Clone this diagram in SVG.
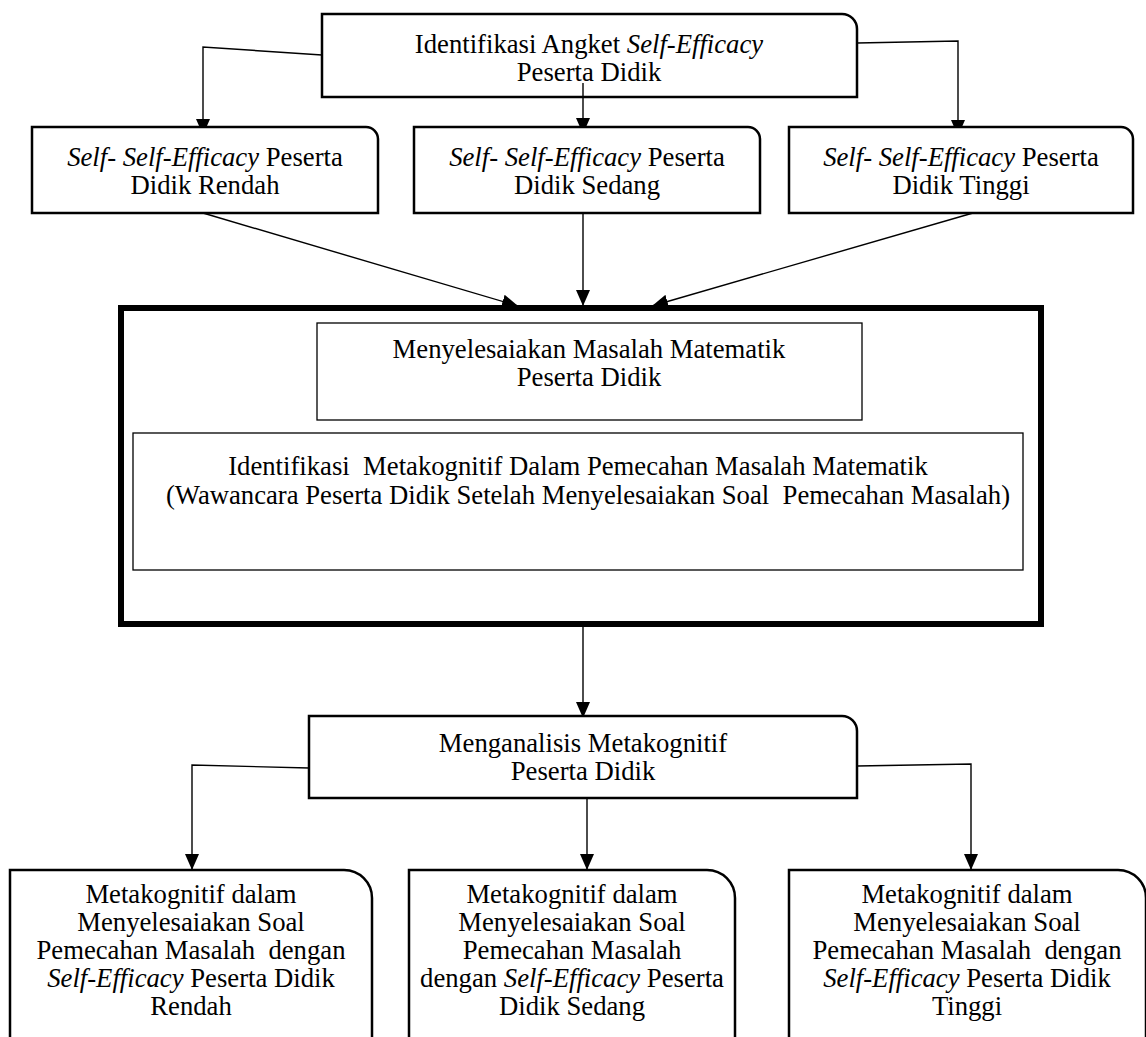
<svg xmlns="http://www.w3.org/2000/svg" width="1146" height="1037" viewBox="0 0 1146 1037">
<defs>
<marker id="arr" viewBox="0 0 16 14" refX="16" refY="7" markerWidth="16" markerHeight="14" markerUnits="userSpaceOnUse" orient="auto">
<path d="M0,0 L16,7 L0,14 Z" fill="#000"/>
</marker>
<style>
.box{fill:#fff;stroke:#000;stroke-width:2.5}
.thin{fill:#fff;stroke:#000;stroke-width:1.3}
.big{fill:none;stroke:#000;stroke-width:6}
.ln{fill:none;stroke:#000;stroke-width:1.4}
.t{font-family:'Liberation Serif','Times New Roman','DejaVu Serif',serif;font-size:26.7px;fill:#000;text-anchor:middle}
.i{font-style:italic}
</style>
</defs>
<rect width="1146" height="1037" fill="#fff"/>

<g id="connectors">
<polyline class="ln" points="322,55 203,47 203,135" marker-end="url(#arr)"/>
<line class="ln" x1="583" y1="83" x2="583" y2="134" marker-end="url(#arr)"/>
<polyline class="ln" points="857,43 958,41 958,136" marker-end="url(#arr)"/>
<line class="ln" x1="203" y1="213" x2="518" y2="306" marker-end="url(#arr)"/>
<line class="ln" x1="583" y1="213" x2="583" y2="306" marker-end="url(#arr)"/>
<line class="ln" x1="973" y1="213" x2="652" y2="306" marker-end="url(#arr)"/>
<line class="ln" x1="583" y1="624" x2="583" y2="718" marker-end="url(#arr)"/>
<polyline class="ln" points="309,768 192,765 192,870" marker-end="url(#arr)"/>
<line class="ln" x1="587" y1="798" x2="587" y2="870" marker-end="url(#arr)"/>
<polyline class="ln" points="857,766 971,764 971,870" marker-end="url(#arr)"/>
</g>

<g id="n-top">
<path class="box" d="M322,14 H842 A15,15 0 0 1 857,29 V97 H322 Z"/>
<text class="t" x="589" y="53">Identifikasi Angket <tspan class="i">Self-Efficacy</tspan></text>
<text class="t" x="589" y="81">Peserta Didik</text>
</g>
<line class="ln" x1="583" y1="83" x2="583" y2="97"/>

<g id="n-rendah">
<path class="box" d="M32,127 H366 A12,12 0 0 1 378,139 V213 H32 Z"/>
<text class="t" x="205" y="166"><tspan class="i">Self- Self-Efficacy</tspan> Peserta</text>
<text class="t" x="205" y="194">Didik Rendah</text>
</g>
<g id="n-sedang">
<path class="box" d="M414,127 H748 A12,12 0 0 1 760,139 V213 H414 Z"/>
<text class="t" x="587" y="166"><tspan class="i">Self- Self-Efficacy</tspan> Peserta</text>
<text class="t" x="587" y="194">Didik Sedang</text>
</g>
<g id="n-tinggi">
<path class="box" d="M789,127 H1121 A12,12 0 0 1 1133,139 V213 H789 Z"/>
<text class="t" x="961" y="166"><tspan class="i">Self- Self-Efficacy</tspan> Peserta</text>
<text class="t" x="961" y="194">Didik Tinggi</text>
</g>

<g id="n-group">
<rect class="big" x="121" y="308" width="920" height="316"/>
</g>
<g id="n-menyelesaikan">
<rect class="thin" x="317" y="323" width="545" height="97"/>
<text class="t" x="589" y="358">Menyelesaiakan Masalah Matematik</text>
<text class="t" x="589" y="386">Peserta Didik</text>
</g>
<g id="n-identifikasi">
<rect class="thin" x="133" y="433" width="890" height="137"/>
<text class="t" x="578" y="475" xml:space="preserve">Identifikasi  Metakognitif Dalam Pemecahan Masalah Matematik</text>
<text class="t" x="588" y="504" xml:space="preserve">(Wawancara Peserta Didik Setelah Menyelesaiakan Soal  Pemecahan Masalah)</text>
</g>

<g id="n-menganalisis">
<path class="box" d="M309,716 H842 A15,15 0 0 1 857,731 V798 H309 Z"/>
<text class="t" x="583" y="752">Menganalisis Metakognitif</text>
<text class="t" x="583" y="780">Peserta Didik</text>
</g>

<g id="n-b-rendah">
<path class="box" d="M10,870 H344 A28,28 0 0 1 372,898 V1040 H10 Z"/>
<text class="t" x="191" y="903">Metakognitif dalam</text>
<text class="t" x="191" y="931">Menyelesaiakan Soal</text>
<text class="t" x="191" y="959" xml:space="preserve">Pemecahan Masalah  dengan</text>
<text class="t" x="191" y="987"><tspan class="i">Self-Efficacy</tspan> Peserta Didik</text>
<text class="t" x="191" y="1015">Rendah</text>
</g>
<g id="n-b-sedang">
<path class="box" d="M409,870 H707 A28,28 0 0 1 735,898 V1040 H409 Z"/>
<text class="t" x="572" y="903">Metakognitif dalam</text>
<text class="t" x="572" y="931">Menyelesaiakan Soal</text>
<text class="t" x="572" y="959">Pemecahan Masalah</text>
<text class="t" x="572" y="987">dengan <tspan class="i">Self-Efficacy</tspan> Peserta</text>
<text class="t" x="572" y="1015">Didik Sedang</text>
</g>
<g id="n-b-tinggi">
<path class="box" d="M789,870 H1118 A28,28 0 0 1 1146,898 V1040 H789 Z"/>
<text class="t" x="967" y="903">Metakognitif dalam</text>
<text class="t" x="967" y="931">Menyelesaiakan Soal</text>
<text class="t" x="967" y="959" xml:space="preserve">Pemecahan Masalah  dengan</text>
<text class="t" x="967" y="987"><tspan class="i">Self-Efficacy</tspan> Peserta Didik</text>
<text class="t" x="967" y="1015">Tinggi</text>
</g>
</svg>
